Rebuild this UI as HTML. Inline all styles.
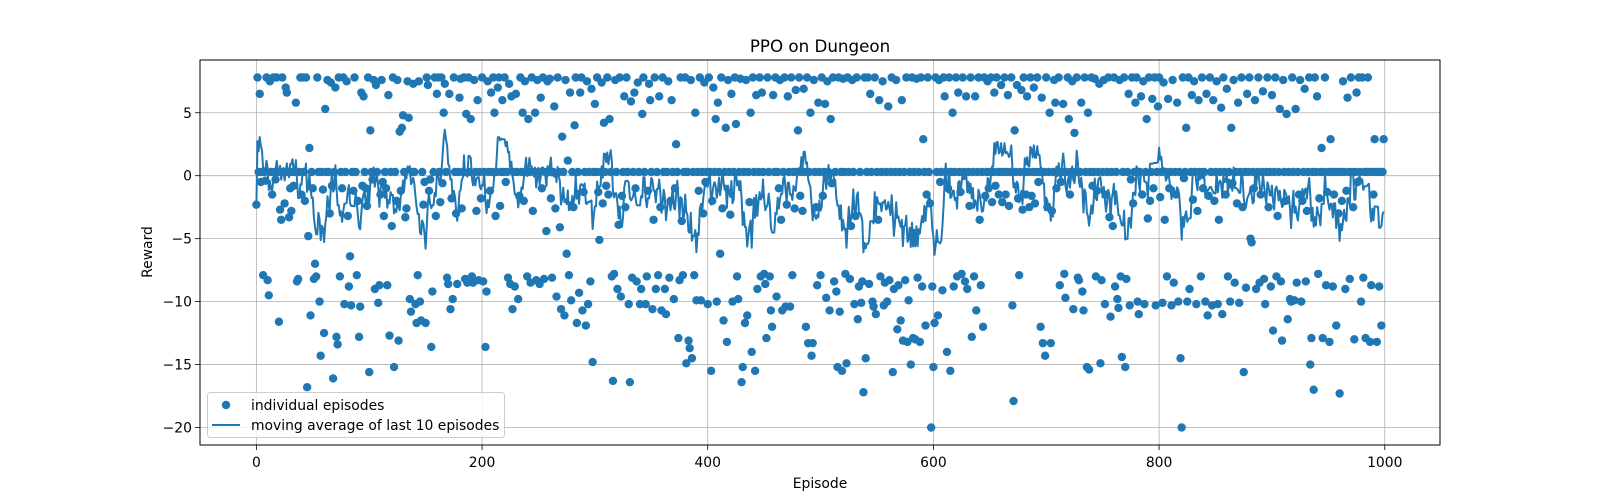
<!DOCTYPE html>
<html><head><meta charset="utf-8"><style>
html,body{margin:0;padding:0;background:#fff;overflow:hidden;width:1600px;height:500px;}
svg{display:block;}
svg text{font-family:"DejaVu Sans","Liberation Sans",sans-serif;fill:#000;}
</style></head><body>
<svg id="chart" width="1600" height="500" viewBox="0 0 1600 500" xmlns="http://www.w3.org/2000/svg">
<rect x="0" y="0" width="1600" height="500" fill="#fff"/>
<g id="grid"></g>
<g id="scatter"></g>
<g id="ma"></g>
<rect x="200" y="60" width="1240" height="385" fill="none" stroke="#000" stroke-width="1"/>
<g id="axes"></g>
<text x="820" y="52" font-size="16.7" text-anchor="middle">PPO on Dungeon</text>
<text x="820" y="488" font-size="13.9" text-anchor="middle">Episode</text>
<text x="152" y="252" font-size="13.9" text-anchor="middle" transform="rotate(-90 152 252)">Reward</text>
<g>
<rect x="207.5" y="392.5" width="297" height="45" rx="3" fill="#fff" fill-opacity="0.8" stroke="#ccc"/>
<circle cx="226" cy="405" r="4.2" fill="#1f77b4"/>
<text x="251" y="410" font-size="13.9">individual episodes</text>
<line x1="212" y1="425" x2="240" y2="425" stroke="#1f77b4" stroke-width="2"/>
<text x="251" y="430" font-size="13.9">moving average of last 10 episodes</text>
</g>
</svg>
<script>
const xTicks=[0,200,400,600,800,1000];
const yTicks=[5,0,-5,-10,-15,-20];
const rewards=[
-2.3,7.8,0.3,6.5,-0.5,0.3,-7.9,0.3,-0.4,7.8,-8.3,-9.5,7.5,0.3,-1.5,7.8,0.3,-0.3,7.8,0.3,
-11.6,-2.7,-3.5,7.8,0.3,-2.2,7.0,6.6,0.3,-3.3,-1.0,-2.8,0.3,-0.8,0.3,5.8,-8.4,-8.2,0.3,7.8,
-1.5,7.8,0.3,-2.0,7.8,-16.8,-4.8,2.2,-11.1,0.3,-1.0,-8.2,-7.0,-8.0,7.8,0.3,-10.0,-14.3,0.3,-1.1,
-12.5,5.3,0.3,7.6,0.3,-3.0,7.4,-0.8,-16.1,0.3,7.0,-12.8,-13.4,7.8,-8.0,0.3,-1.0,7.8,-10.2,0.3,
7.5,-3.2,-8.8,-6.4,-10.3,0.3,-1.2,7.8,0.3,-7.9,-2.0,-12.8,-10.4,6.6,-0.8,6.3,0.3,-1.0,-2.4,7.8,
-15.6,3.6,0.3,-0.3,7.6,-9.0,7.2,0.3,-10.1,-8.7,-1.5,7.6,-0.5,-3.2,0.3,-1.0,-8.7,6.4,-12.7,0.3,
-4.0,7.8,-15.2,0.3,-2.0,7.6,-13.1,3.5,-1.2,3.8,4.8,0.3,-3.3,-2.6,7.5,4.6,-9.8,-10.8,0.3,7.3,
0.3,-10.2,-11.7,-7.9,7.5,-10.0,-11.5,0.3,-2.3,-0.5,-11.7,7.8,7.2,-1.2,-0.3,-13.6,-9.2,0.3,7.8,-3.2,
6.5,7.8,0.3,-2.1,7.8,-0.6,5.0,7.3,0.3,-8.1,-8.6,6.5,-10.6,-1.8,-9.8,7.8,0.3,-3.0,-8.6,0.3,
6.2,7.7,-2.6,0.3,7.8,-8.2,4.9,-8.5,7.8,0.3,4.5,-8.0,-8.5,7.6,0.3,-2.8,6.0,-8.3,0.3,-1.8,
7.8,-8.4,0.3,-13.6,-9.2,7.5,0.3,-1.2,6.6,0.3,7.8,5.0,-3.2,0.3,7.0,7.8,-2.4,0.3,6.0,0.3,
7.8,-0.5,0.3,-8.1,7.3,-8.6,6.3,-10.6,0.3,-8.8,6.5,0.3,-9.8,-1.6,7.8,0.3,5.0,-2.0,7.5,0.3,
-8.0,4.5,0.3,-8.5,7.8,-2.8,0.3,5.0,-8.3,7.6,0.3,-8.6,6.2,-1.0,7.8,-8.2,0.3,-4.4,7.5,0.3,
7.7,-1.8,-8.1,0.3,5.5,-2.6,-9.6,7.8,0.3,-4.1,-10.6,3.1,0.3,-11.1,7.6,-6.2,1.2,-7.9,6.6,-9.9,
0.3,-2.5,4.0,7.8,-11.7,0.3,-9.3,6.6,7.8,-10.7,-1.3,0.3,-11.9,7.5,-10.2,0.3,-8.4,6.9,-14.8,0.3,
5.7,0.3,7.8,-1.3,-5.1,0.3,7.4,-2.2,4.2,0.3,-0.8,7.8,-1.5,4.5,0.3,-8.0,-16.3,-7.8,7.6,0.3,
-9.0,-3.9,7.8,-9.6,-1.6,0.3,6.3,-2.5,7.8,0.3,-10.2,-16.4,5.9,-8.1,0.3,6.6,-1.0,-8.4,7.4,0.3,
-10.2,-9.0,4.9,7.8,0.3,-10.2,-8.0,-1.2,7.3,6.0,0.3,-10.6,-3.5,7.8,-9.0,0.3,-7.9,6.3,-2.5,-10.7,
7.8,0.3,-9.0,-11.0,0.3,7.5,-8.1,-2.0,6.0,0.3,-9.8,-1.0,2.5,0.3,-12.9,-8.3,7.8,-3.6,-7.9,0.3,
7.8,-14.9,0.3,-13.1,-13.7,7.6,-14.5,0.3,-7.9,5.0,-9.9,0.3,-1.2,7.8,-9.9,0.3,-3.0,7.4,-0.5,0.3,
-10.2,7.8,0.3,-15.5,-2.0,7.0,0.3,4.5,-10.0,5.8,0.3,-6.2,7.8,-2.6,-11.5,0.3,3.8,-13.2,7.6,0.3,
-3.1,6.5,-10.0,0.3,7.8,4.1,-8.0,-9.8,0.3,7.7,-16.4,-15.2,0.3,-11.7,7.6,-11.1,0.3,-2.1,5.0,-14.0,
7.8,0.3,-15.5,6.4,-9.0,0.3,7.8,-8.0,6.6,0.3,-7.8,-8.6,-12.9,7.8,0.3,-8.0,-10.7,-12.0,6.4,0.3,
7.8,-9.6,0.3,-1.0,7.6,-3.5,-10.7,0.3,7.8,-10.4,-2.3,6.3,0.3,-10.4,7.8,-7.9,0.3,-2.6,6.8,0.3,
3.6,7.8,-1.6,0.3,-2.8,6.9,0.3,-12.0,7.8,-13.3,0.3,5.0,-14.3,-13.3,7.6,0.3,-2.5,-8.7,5.8,0.3,
-7.9,7.8,-1.6,0.3,5.7,-9.7,7.5,0.3,-10.7,4.5,-0.6,7.8,-8.4,0.3,-9.2,-15.2,7.8,-10.8,0.3,-15.5,
7.7,0.3,-7.8,-14.9,7.8,0.3,-8.2,-4.0,7.6,0.3,-10.2,-3.2,7.8,-11.4,-8.8,0.3,-10.1,-8.4,-17.2,7.8,
-14.5,0.3,7.8,-8.6,6.5,0.3,-10.0,-10.4,7.8,-11.0,0.3,-3.5,6.0,-8.0,0.3,7.5,-10.3,-8.5,0.3,-10.0,
5.5,-8.3,0.3,7.8,-15.6,-9.0,0.3,7.6,-12.2,-8.7,0.3,-11.5,6.0,-13.1,0.3,-8.3,7.8,-13.2,-9.9,0.3,
-15.0,7.8,-12.9,0.3,-13.0,7.7,-8.1,0.3,-13.2,7.8,-8.8,2.9,0.3,-11.9,-1.5,7.8,0.3,-2.2,-20.0,-8.8,
-15.2,-11.7,7.8,0.3,-11.1,7.6,-0.5,0.3,-9.1,7.8,6.3,0.3,-14.0,-1.0,7.8,-15.5,0.3,5.0,-8.8,0.3,
7.8,-8.0,6.6,0.3,-1.3,-7.8,7.8,0.3,-8.4,6.3,-9.0,0.3,-2.4,7.8,-12.8,0.3,-8.0,6.3,-10.7,0.3,
7.8,-3.5,-8.7,0.3,-12.0,7.8,-1.6,0.3,7.5,-1.0,0.3,7.8,-2.1,0.3,6.6,-0.8,7.8,0.3,-1.5,0.3,
7.2,-2.1,0.3,7.8,-1.5,0.3,6.4,-2.4,0.3,7.8,-10.3,-17.9,3.6,0.3,7.2,-1.8,-7.9,0.3,6.8,-2.7,
7.8,0.3,-1.5,6.3,0.3,-2.5,7.8,-1.6,0.3,7.0,-2.2,0.3,7.8,-0.5,0.3,-12.0,6.2,-13.3,0.3,-14.3,
7.8,-2.5,0.3,5.0,-13.3,-2.8,0.3,7.6,5.8,-1.0,0.3,7.8,-8.7,-0.5,0.3,5.7,-7.8,-9.7,0.3,7.8,
4.5,-1.5,0.3,7.5,-10.6,3.4,0.3,7.8,-8.1,-8.3,0.3,5.8,-9.2,-10.7,7.8,0.3,-15.2,5.0,-15.4,0.3,
7.8,-0.8,0.3,7.7,-8.0,-1.2,0.3,7.3,-14.9,-8.3,0.3,7.6,-10.2,-1.5,0.3,7.8,-3.3,-11.2,0.3,-4.0,
7.8,-8.8,0.3,-9.8,-10.5,7.6,-8.0,-14.4,0.3,7.8,-15.2,-8.2,0.3,6.5,-10.3,-0.3,7.8,-2.2,0.3,5.8,
7.8,-10.0,-11.0,0.3,6.3,-1.5,7.5,-10.2,0.3,4.5,-3.4,7.8,-2.0,0.3,6.1,-1.0,7.8,-10.3,0.3,5.5,
7.8,-1.7,0.3,-10.1,7.4,-3.5,0.3,-8.0,6.1,-1.0,0.3,-10.3,7.6,-8.5,0.3,-1.5,5.8,-10.0,0.3,-14.5,
-20.0,7.8,-0.2,0.3,3.8,-10.0,7.8,-9.0,0.3,6.4,-1.9,7.5,0.3,-10.2,-2.8,6.0,0.3,-8.0,7.8,-1.0,
0.3,-10.0,6.5,-11.1,-1.6,7.8,0.3,-10.3,6.0,-2.0,0.3,7.5,-10.2,-3.5,0.3,5.4,-11.0,7.8,0.3,-1.5,
6.9,-8.0,0.3,-10.0,3.8,-0.6,7.6,-8.5,0.3,-2.2,5.8,-10.1,0.3,7.8,-2.5,-15.6,0.3,-8.9,6.5,0.3,
7.8,-5.0,-5.3,0.3,-1.0,6.0,-9.0,0.3,7.8,-8.5,-1.5,0.3,6.7,-8.2,-10.2,0.3,7.8,-2.5,0.3,-8.8,
6.4,-12.3,0.3,7.8,-8.0,-3.2,0.3,5.3,-8.4,-13.1,7.6,0.3,-2.0,4.9,-11.4,0.3,-9.8,-10.0,7.8,0.3,
-9.9,5.3,-8.5,0.3,-1.5,7.6,-10.0,-2.0,0.3,6.9,-8.4,-2.8,0.3,7.8,-15.0,-12.9,0.3,-17.0,7.8,0.3,
6.3,-7.8,-1.8,0.3,2.2,-12.9,0.3,7.8,-8.7,-1.3,0.3,-13.2,2.9,0.3,-8.8,-1.5,0.3,-11.9,0.3,-3.0,
-17.3,0.3,-2.0,7.5,0.3,-9.0,-1.2,6.2,0.3,-8.2,7.8,0.3,-2.5,-13.0,0.3,6.6,-0.5,7.8,0.3,-10.0,
7.8,-8.1,0.3,-12.9,0.3,7.8,0.3,-13.2,-8.7,0.3,-1.5,2.9,0.3,-13.2,0.3,-8.8,0.3,-11.9,0.3,2.9
];
const windowSize=10;
const NS='http://www.w3.org/2000/svg';
const L=200,R=1440,T=60,B=445,xMin=-49.95,xMax=1048.95,yMin=-21.39,yMax=9.19;
const sx=v=>L+(v-xMin)/(xMax-xMin)*(R-L);
const sy=v=>B-(v-yMin)/(yMax-yMin)*(B-T);
function mk(tag,attrs,parent){const e=document.createElementNS(NS,tag);for(const k in attrs)e.setAttribute(k,attrs[k]);parent.appendChild(e);return e;}
const grid=document.getElementById('grid'),axes=document.getElementById('axes');
xTicks.forEach(t=>{
  const g=mk('line',{x1:sx(t),x2:sx(t),y1:T,y2:B,stroke:'#b0b0b0','stroke-width':0.8},grid);
  
  
  const tk=mk('line',{x1:sx(t),x2:sx(t),y1:B,y2:B+5,stroke:'#000','stroke-width':0.8},axes);
  
  
  const tx=mk('text',{x:sx(t),y:B+22,'font-size':13.9,'text-anchor':'middle'},axes);
  tx.textContent=String(t);
  
  
});
yTicks.forEach(t=>{
  const g=mk('line',{x1:L,x2:R,y1:sy(t),y2:sy(t),stroke:'#b0b0b0','stroke-width':0.8},grid);
  
  
  const tk=mk('line',{x1:L-5,x2:L,y1:sy(t),y2:sy(t),stroke:'#000','stroke-width':0.8},axes);
  
  
  const tx=mk('text',{x:L-8,y:sy(t)+5,'font-size':13.9,'text-anchor':'end'},axes);
  tx.textContent=(t<0?'\u2212'+Math.abs(t):String(t));
  
  
});
const sc=document.getElementById('scatter');
rewards.forEach((v,i)=>{
  const c=mk('circle',{cx:sx(i),cy:sy(v),r:4.2,fill:'#1f77b4'},sc);
  
  
});
let pts=[];
for(let i=0;i<rewards.length;i++){
  const s=Math.max(0,i-windowSize+1);let sum=0;
  for(let j=s;j<=i;j++)sum+=rewards[j];
  pts.push(sx(i).toFixed(1)+','+sy(sum/(i-s+1)).toFixed(1));
}
const pl=mk('polyline',{points:pts.join(' '),fill:'none',stroke:'#1f77b4','stroke-width':2,'stroke-linejoin':'round'},document.getElementById('ma'));


</script>
</body></html>
